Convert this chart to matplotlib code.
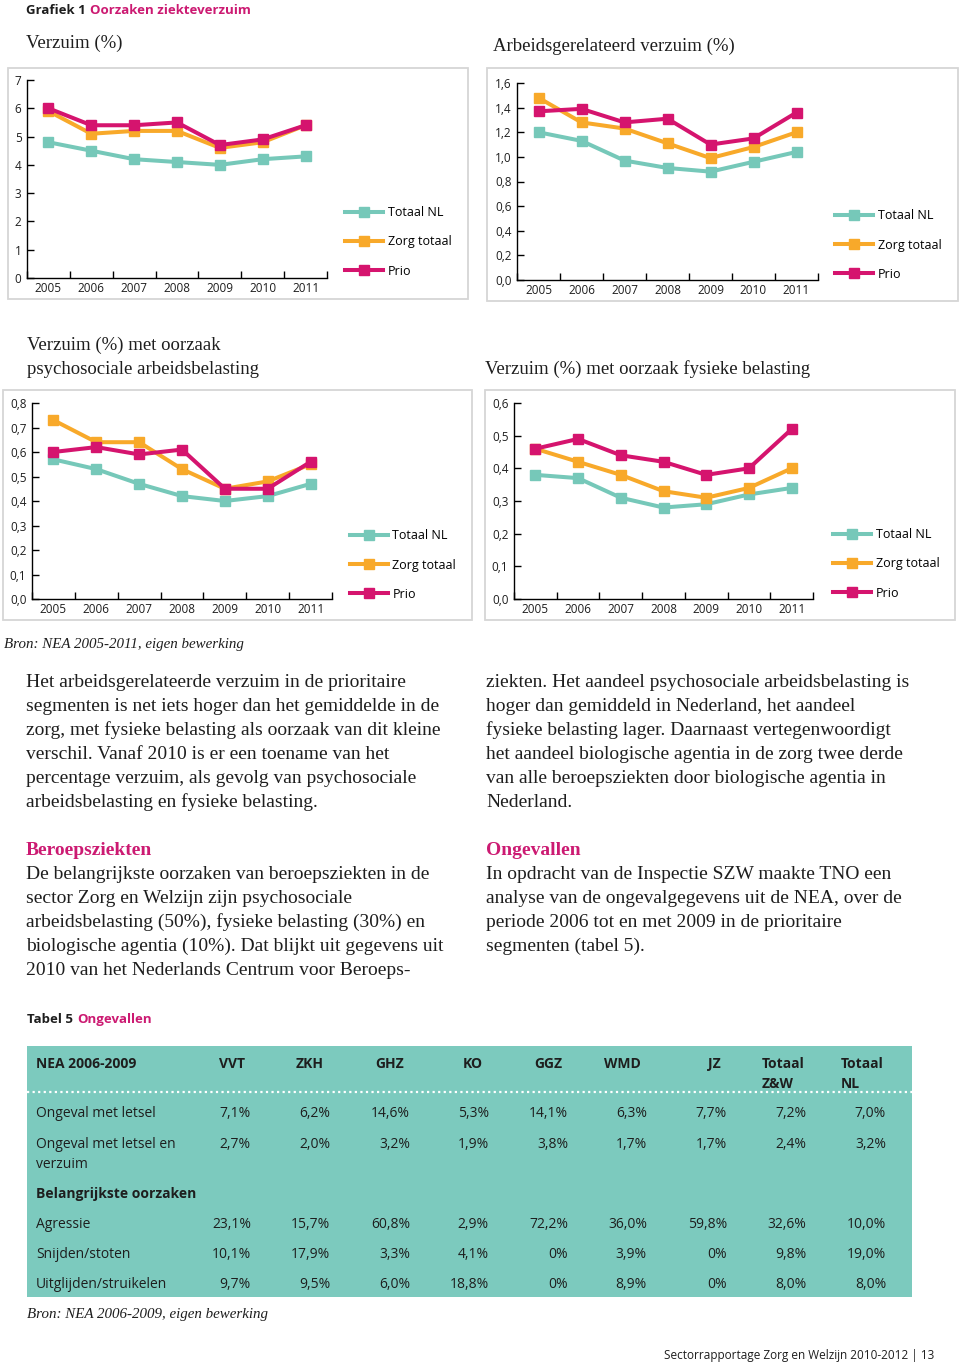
import matplotlib.pyplot as plt
from matplotlib.patches import Rectangle
from matplotlib.ticker import FuncFormatter
import numpy as np

W, H = 960, 1364

years = ['2005', '2006', '2007', '2008', '2009', '2010', '2011']
series_names = ['Totaal NL', 'Zorg totaal', 'Prio']

# Verzuim (%)
verzuim_nl = [4.8, 4.5, 4.2, 4.1, 4.0, 4.2, 4.3]
verzuim_zorg = [5.9, 5.1, 5.2, 5.2, 4.6, 4.8, 5.4]
verzuim_prio = [6.0, 5.4, 5.4, 5.5, 4.7, 4.9, 5.4]

# Arbeidsgerelateerd verzuim (%)
arbeid_nl = [1.20, 1.13, 0.97, 0.91, 0.88, 0.96, 1.04]
arbeid_zorg = [1.48, 1.28, 1.23, 1.11, 0.99, 1.08, 1.20]
arbeid_prio = [1.37, 1.39, 1.28, 1.31, 1.10, 1.15, 1.36]

# Verzuim (%) met oorzaak psychosociale arbeidsbelasting
psycho_nl = [0.57, 0.53, 0.47, 0.42, 0.40, 0.42, 0.47]
psycho_zorg = [0.73, 0.64, 0.64, 0.53, 0.45, 0.48, 0.55]
psycho_prio = [0.60, 0.62, 0.59, 0.61, 0.45, 0.45, 0.56]

# Verzuim (%) met oorzaak fysieke belasting
fysiek_nl = [0.38, 0.37, 0.31, 0.28, 0.29, 0.32, 0.34]
fysiek_zorg = [0.46, 0.42, 0.38, 0.33, 0.31, 0.34, 0.40]
fysiek_prio = [0.46, 0.49, 0.44, 0.42, 0.38, 0.40, 0.52]

# Tabel 5 Ongevallen
table_cols = ['VVT', 'ZKH', 'GHZ', 'KO', 'GGZ', 'WMD', 'JZ', 'Totaal\nZ&W', 'Totaal\nNL']
row_letsel = ['7,1%', '6,2%', '14,6%', '5,3%', '14,1%', '6,3%', '7,7%', '7,2%', '7,0%']
row_verzuim = ['2,7%', '2,0%', '3,2%', '1,9%', '3,8%', '1,7%', '1,7%', '2,4%', '3,2%']
row_agressie = ['23,1%', '15,7%', '60,8%', '2,9%', '72,2%', '36,0%', '59,8%', '32,6%', '10,0%']
row_snijden = ['10,1%', '17,9%', '3,3%', '4,1%', '0%', '3,9%', '0%', '9,8%', '19,0%']
row_uitglijden = ['9,7%', '9,5%', '6,0%', '18,8%', '0%', '8,9%', '0%', '8,0%', '8,0%']

TEAL = '#76c8b9'
ORANGE = '#f8a92a'
MAGENTA = '#d5146e'
TITLE_MAG = '#cc1a72'
TABLE_BG = '#7ccabe'
INK = '#1e1e1e'
SERIF = 'Liberation Serif'
SANS = 'Open Sans'

fig = plt.figure(figsize=(9.6, 13.64), dpi=100)
bg = fig.add_axes([0, 0, 1, 1], zorder=0)
bg.set_xlim(0, W)
bg.set_ylim(H, 0)
bg.axis('off')


def box(x0, y0, x1, y1):
    bg.add_patch(Rectangle((x0, y0), x1 - x0, y1 - y0, fill=False,
                           edgecolor='#d6d6d6', lw=1.3))


def chart(rect, nl, zorg, prio, ymax, step, dec, leg_xy):
    x0, y0, x1, y1 = rect
    ax = fig.add_axes([x0 / W, 1 - y1 / H, (x1 - x0) / W, (y1 - y0) / H], zorder=2)
    ax.set_facecolor('none')
    xs = np.arange(len(years))
    for vals, col, lab in zip([nl, zorg, prio], [TEAL, ORANGE, MAGENTA], series_names):
        ax.plot(xs, vals, color=col, lw=2.9, marker='s', ms=6.5, label=lab, clip_on=False)
    ax.set_xlim(-0.5, len(years) - 0.5)
    ax.set_ylim(0, ymax)
    for s in ['top', 'right']:
        ax.spines[s].set_visible(False)
    for s in ['left', 'bottom']:
        ax.spines[s].set_linewidth(1.0)
        ax.spines[s].set_color('black')
    ax.set_xticks(xs)
    ax.set_xticklabels(years)
    ax.set_xticks(np.arange(-0.5, len(years)), minor=True)
    ax.tick_params(axis='x', which='major', length=0, pad=3, labelsize=8.5, labelcolor=INK)
    ax.tick_params(axis='x', which='minor', length=5, width=1.0, direction='in')
    ax.set_yticks(np.arange(0, ymax + step / 2, step))
    ax.yaxis.set_major_formatter(FuncFormatter(
        lambda v, p: f'{v:.{dec}f}'.replace('.', ',')))
    ax.tick_params(axis='y', length=5, width=1.0, direction='in', pad=4,
                   labelsize=8.5, labelcolor=INK)
    for lbl in ax.get_xticklabels() + ax.get_yticklabels():
        lbl.set_fontfamily(SANS)
    ax.legend(loc='center left', bbox_to_anchor=leg_xy, bbox_transform=bg.transData,
              frameon=False, borderpad=0, borderaxespad=0, handlelength=3.0,
              handletextpad=0.4, labelspacing=1.3,
              prop={'family': SANS, 'size': 9})
    return ax


# header
t1 = bg.text(26, 14.5, 'Grafiek 1', fontfamily=SANS, fontweight='bold', fontsize=9.5,
             color=INK, va='baseline')
bg.annotate('Oorzaken ziekteverzuim', xy=(1, 0), xycoords=t1, xytext=(3, 0),
            textcoords='offset points', fontfamily=SANS, fontweight='bold',
            fontsize=9.5, color=TITLE_MAG, va='bottom')

TITLE = 13.5
bg.text(26, 48, 'Verzuim (%)', fontfamily=SERIF, fontsize=TITLE, color=INK, va='baseline')
bg.text(493, 51, 'Arbeidsgerelateerd verzuim (%)', fontfamily=SERIF, fontsize=TITLE,
        color=INK, va='baseline')
bg.text(27, 350, 'Verzuim (%) met oorzaak', fontfamily=SERIF, fontsize=TITLE, color=INK,
        va='baseline')
bg.text(27, 374, 'psychosociale arbeidsbelasting', fontfamily=SERIF, fontsize=TITLE,
        color=INK, va='baseline')
bg.text(485, 374, 'Verzuim (%) met oorzaak fysieke belasting', fontfamily=SERIF,
        fontsize=TITLE, color=INK, va='baseline')

box(8, 68, 468, 299)
box(487, 68, 958, 301)
box(3, 390, 472, 620)
box(485, 390, 955, 620)

chart((27, 80, 327, 278), verzuim_nl, verzuim_zorg, verzuim_prio, 7, 1, 0, (345, 242))
chart((517, 83, 818, 280), arbeid_nl, arbeid_zorg, arbeid_prio, 1.6, 0.2, 1, (835, 245))
chart((32, 403, 332, 599), psycho_nl, psycho_zorg, psycho_prio, 0.8, 0.1, 1, (350, 565))
chart((514, 403, 813, 599), fysiek_nl, fysiek_zorg, fysiek_prio, 0.6, 0.1, 1, (833, 564))

bg.text(4, 648, 'Bron: NEA 2005-2011, eigen bewerking', fontfamily=SERIF,
        style='italic', fontsize=10.8, color=INK, va='baseline')

# body text
left_par = ['Het arbeidsgerelateerde verzuim in de prioritaire',
            'segmenten is net iets hoger dan het gemiddelde in de',
            'zorg, met fysieke belasting als oorzaak van dit kleine',
            'verschil. Vanaf 2010 is er een toename van het',
            'percentage verzuim, als gevolg van psychosociale',
            'arbeidsbelasting en fysieke belasting.']
right_par = ['ziekten. Het aandeel psychosociale arbeidsbelasting is',
             'hoger dan gemiddeld in Nederland, het aandeel',
             'fysieke belasting lager. Daarnaast vertegenwoordigt',
             'het aandeel biologische agentia in de zorg twee derde',
             'van alle beroepsziekten door biologische agentia in',
             'Nederland.']
beroeps_par = ['De belangrijkste oorzaken van beroepsziekten in de',
               'sector Zorg en Welzijn zijn psychosociale',
               'arbeidsbelasting (50%), fysieke belasting (30%) en',
               'biologische agentia (10%). Dat blijkt uit gegevens uit',
               '2010 van het Nederlands Centrum voor Beroeps-']
ongeval_par = ['In opdracht van de Inspectie SZW maakte TNO een',
               'analyse van de ongevalgegevens uit de NEA, over de',
               'periode 2006 tot en met 2009 in de prioritaire',
               'segmenten (tabel 5).']

BODY = 14
for i, line in enumerate(left_par):
    bg.text(26, 687 + 24 * i, line, fontfamily=SERIF, fontsize=BODY, color=INK, va='baseline')
for i, line in enumerate(right_par):
    bg.text(486, 687 + 24 * i, line, fontfamily=SERIF, fontsize=BODY, color=INK, va='baseline')

bg.text(26, 855, 'Beroepsziekten', fontfamily=SERIF, fontweight='bold', fontsize=BODY,
        color=TITLE_MAG, va='baseline')
for i, line in enumerate(beroeps_par):
    bg.text(26, 879 + 24 * i, line, fontfamily=SERIF, fontsize=BODY, color=INK, va='baseline')
bg.text(486, 855, 'Ongevallen', fontfamily=SERIF, fontweight='bold', fontsize=BODY,
        color=TITLE_MAG, va='baseline')
for i, line in enumerate(ongeval_par):
    bg.text(486, 879 + 24 * i, line, fontfamily=SERIF, fontsize=BODY, color=INK, va='baseline')

# table
t2 = bg.text(27, 1023, 'Tabel 5', fontfamily=SANS, fontweight='bold', fontsize=9.5,
             color=INK, va='baseline')
bg.annotate('Ongevallen', xy=(1, 0), xycoords=t2, xytext=(3, 0),
            textcoords='offset points', fontfamily=SANS, fontweight='bold',
            fontsize=9.5, color=TITLE_MAG, va='bottom')

bg.add_patch(Rectangle((27, 1046), 912 - 27, 1297 - 1046, facecolor=TABLE_BG,
                       edgecolor='none'))
bg.plot([27, 912], [1092, 1092], color='white', lw=1.6, ls=(0, (1, 1.5)))

TS = 10
col_right = [251, 330, 410, 489, 568, 647, 727, 806, 886]
col_left_tot = [762, 841]
bg.text(36, 1068, 'NEA 2006-2009', fontfamily=SANS, fontweight='bold', fontsize=TS,
        color=INK, va='baseline')
for j, name in enumerate(table_cols):
    if '\n' in name:
        a, b = name.split('\n')
        xl = col_left_tot[j - 7]
        bg.text(xl, 1068, a, fontfamily=SANS, fontweight='bold', fontsize=TS,
                color=INK, va='baseline')
        bg.text(xl, 1088, b, fontfamily=SANS, fontweight='bold', fontsize=TS,
                color=INK, va='baseline')
    else:
        bg.text(col_right[j] - 6, 1068, name, fontfamily=SANS, fontweight='bold',
                fontsize=TS, color=INK, va='baseline', ha='right')

rows = [('Ongeval met letsel', row_letsel, 1117),
        ('Ongeval met letsel en', row_verzuim, 1148),
        ('Agressie', row_agressie, 1228),
        ('Snijden/stoten', row_snijden, 1258),
        ('Uitglijden/struikelen', row_uitglijden, 1288)]
for label, vals, yb in rows:
    bg.text(36, yb, label, fontfamily=SANS, fontsize=TS, color=INK, va='baseline')
    for xr, v in zip(col_right, vals):
        bg.text(xr, yb, v, fontfamily=SANS, fontsize=TS, color=INK, va='baseline', ha='right')
bg.text(36, 1168, 'verzuim', fontfamily=SANS, fontsize=TS, color=INK, va='baseline')
bg.text(36, 1198, 'Belangrijkste oorzaken', fontfamily=SANS, fontweight='bold',
        fontsize=TS, color=INK, va='baseline')

bg.text(27, 1318, 'Bron: NEA 2006-2009, eigen bewerking', fontfamily=SERIF,
        style='italic', fontsize=10.8, color=INK, va='baseline')
bg.text(934, 1359, 'Sectorrapportage Zorg en Welzijn 2010-2012 | 13', fontfamily=SANS,
        fontsize=8.5, color=INK, va='baseline', ha='right')

fig.savefig('out.png', dpi=100)
